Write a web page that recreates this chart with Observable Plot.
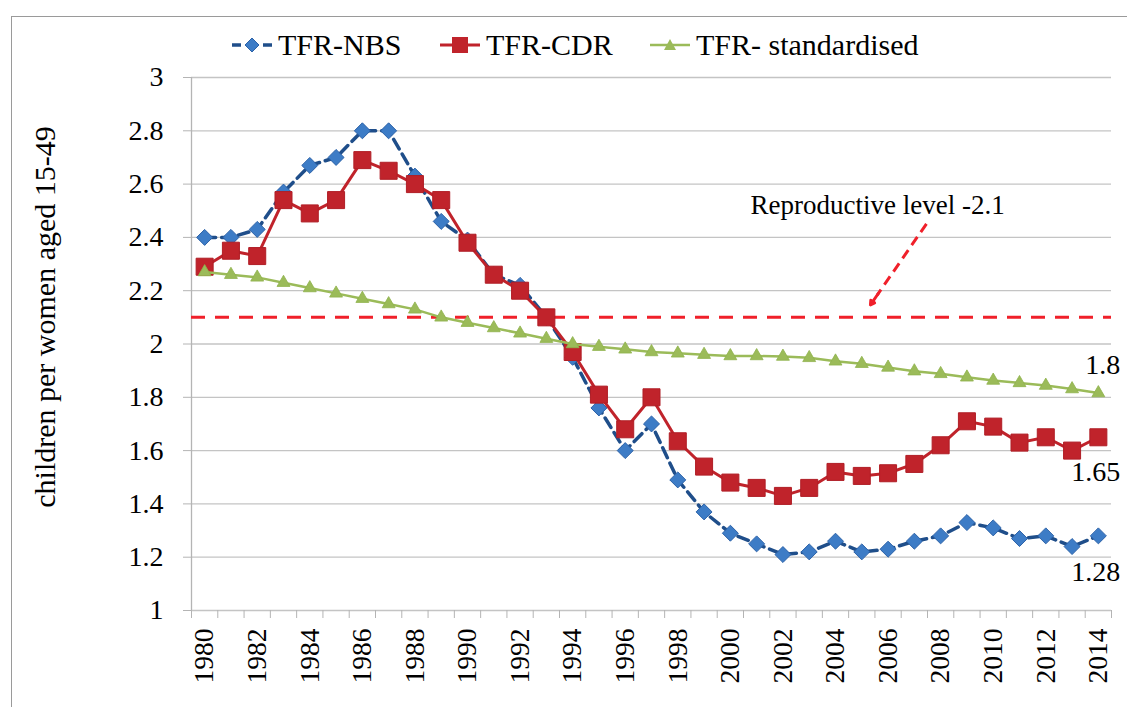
<!DOCTYPE html>
<html>
<head>
<meta charset="utf-8">
<script src="https://cdn.jsdelivr.net/npm/d3@7"></script>
<script src="https://cdn.jsdelivr.net/npm/@observablehq/plot@0.6"></script>
<style>
  html, body { margin: 0; padding: 0; background: #fff; }
  body { font-family: "Liberation Serif", "Times New Roman", serif; width: 1127px; height: 707px; position: relative; overflow: hidden; }
  #frame { position: absolute; left: 11px; top: 16px; right: -4px; bottom: -4px; border-left: 1.5px solid #9a9a9a; border-top: 1.5px solid #9a9a9a; pointer-events: none; }
  #legend { position: relative; height: 62px; font-size: 30px; color: #000; font-family: "Liberation Serif", "Times New Roman", serif; }
  .item { position: absolute; top: 28px; height: 34px; display: flex; align-items: center; white-space: nowrap; }
  .item span { font-family: "Liberation Serif", "Times New Roman", serif; }
  .item svg { margin-right: 6px; }
  #chart { position: relative; }
</style>
</head>
<body>
<div id="legend"></div>
<div id="chart"></div>
<div id="frame"></div>
<script>
// ---- data ----
const years = [1980,1981,1982,1983,1984,1985,1986,1987,1988,1989,
               1990,1991,1992,1993,1994,1995,1996,1997,1998,1999,
               2000,2001,2002,2003,2004,2005,2006,2007,2008,2009,
               2010,2011,2012,2013,2014];
const tfrNBS = [2.40,2.40,2.43,2.57,2.67,2.70,2.80,2.80,2.63,2.46,
                2.39,2.26,2.22,2.10,1.95,1.76,1.60,1.70,1.49,1.37,
                1.29,1.25,1.21,1.22,1.26,1.22,1.23,1.26,1.28,1.33,
                1.31,1.27,1.28,1.24,1.28];
const tfrCDR = [2.29,2.35,2.33,2.54,2.49,2.54,2.69,2.65,2.60,2.54,
                2.38,2.26,2.20,2.10,1.97,1.81,1.68,1.80,1.635,1.54,
                1.48,1.46,1.43,1.46,1.52,1.505,1.515,1.55,1.62,1.71,
                1.69,1.63,1.65,1.60,1.65];
const tfrStd = [2.27,2.26,2.25,2.23,2.21,2.19,2.17,2.15,2.13,2.10,
                2.08,2.06,2.04,2.02,2.00,1.99,1.98,1.97,1.965,1.96,
                1.955,1.955,1.953,1.948,1.935,1.926,1.912,1.898,1.888,1.875,
                1.863,1.854,1.844,1.831,1.816];
const seriesNames = ["TFR-NBS", "TFR-CDR", "TFR- standardised"];
const yTicks = [1, 1.2, 1.4, 1.6, 1.8, 2, 2.2, 2.4, 2.6, 2.8, 3];
const yTickLabels = ["1","1.2","1.4","1.6","1.8","2","2.2","2.4","2.6","2.8","3"];
const xTickLabels = [1980,1982,1984,1986,1988,1990,1992,1994,1996,1998,2000,2002,2004,2006,2008,2010,2012,2014];
const yLabel = "children per women aged 15-49";
const reproductiveLevel = [2.1];
const refText = ["Reproductive level -2.1"];
const refTextPos = [{x: 2005.6, y: 2.52}];
const refArrow = [{x1: 2007.46, y1: 2.451, x2: 2005.33, y2: 2.147}];
const endLabels = ["1.8", "1.65", "1.28"];
const endLabelY = [1.922, 1.521, 1.146];

// ---- colours ----
const cNBSline = "#1f4e8a", cNBSfill = "#3d7cc6", cCDR = "#c0232b", cStd = "#9bbb59", cRef = "#f0202a";
const serif = '"Liberation Serif", "Times New Roman", serif';

// ---- legend (HTML) ----
const legend = document.getElementById("legend");
const swatches = [
  `<svg width="40" height="20"><line x1="0" y1="10" x2="9" y2="10" stroke="${cNBSline}" stroke-width="3.5"/><line x1="31" y1="10" x2="40" y2="10" stroke="${cNBSline}" stroke-width="3.5"/><path d="M20,3 L27,10 L20,17 L13,10 Z" fill="${cNBSfill}" stroke="#2c62a8" stroke-width="1"/></svg>`,
  `<svg width="40" height="20"><line x1="0" y1="10" x2="40" y2="10" stroke="${cCDR}" stroke-width="3"/><rect x="12" y="2" width="16" height="16" fill="${cCDR}"/></svg>`,
  `<svg width="40" height="20"><line x1="0" y1="10" x2="40" y2="10" stroke="${cStd}" stroke-width="2.5"/><path d="M20,4 L26,15 L14,15 Z" fill="${cStd}"/></svg>`
];
const legendLeft = [232, 440, 650];
seriesNames.forEach((n, i) => {
  const d = document.createElement("div");
  d.className = "item";
  d.style.left = legendLeft[i] + "px";
  d.innerHTML = swatches[i] + `<span>${n}</span>`;
  legend.appendChild(d);
});

// ---- chart ----
const xBounds = d3.range(years[0] - 0.5, years[years.length - 1] + 1, 1);
const shaftEnd = refArrow.map(a => ({x1: a.x1, y1: a.y1, x2: a.x2 + (a.x1 - a.x2) * 0.12, y2: a.y2 + (a.y1 - a.y2) * 0.12}));
const headSeg = refArrow.map(a => ({x1: a.x2 + (a.x1 - a.x2) * 0.14, y1: a.y2 + (a.y1 - a.y2) * 0.14, x2: a.x2, y2: a.y2}));

const chart = Plot.plot({
  width: 1127,
  height: 645,
  marginLeft: 191,
  marginRight: 16,
  marginTop: 15,
  marginBottom: 97,
  style: {fontFamily: serif, fontSize: "27px", color: "#000", background: "transparent", overflow: "visible"},
  x: {domain: [years[0] - 0.5, years[years.length - 1] + 0.5]},
  y: {domain: [yTicks[0], yTicks[yTicks.length - 1]]},
  marks: [
    Plot.gridY(yTicks, {stroke: "#c4c4c4", strokeOpacity: 1, strokeWidth: 1.3}),
    Plot.ruleX([xBounds[0]], {stroke: "#b4b4b4", strokeWidth: 1.3}),
    Plot.axisY(yTicks, {tickSize: 8, tickPadding: 20, stroke: "#b4b4b4", fill: "#000", fontSize: 28, fontFamily: serif,
      tickFormat: d => yTickLabels[yTicks.indexOf(d)], label: null}),
    Plot.axisX(xBounds, {tickSize: 8, stroke: "#b4b4b4", tickFormat: () => "", label: null}),
    Plot.axisX(xTickLabels, {tickSize: 0, tickPadding: 18, tickRotate: -90, fill: "#000", fontSize: 27.5, fontFamily: serif,
      tickFormat: d => String(d), label: null}),
    Plot.text([yLabel], {frameAnchor: "left", textAnchor: "middle", rotate: -90, dx: -146, dy: -27, fontSize: 30, fontFamily: serif, fill: "#000"}),
    // reproductive level
    Plot.ruleY(reproductiveLevel, {stroke: cRef, strokeWidth: 3, strokeDasharray: "14,10"}),
    Plot.link(shaftEnd, {x1: "x1", y1: "y1", x2: "x2", y2: "y2", stroke: cRef, strokeWidth: 3, strokeDasharray: "10,6"}),
    Plot.arrow(headSeg, {x1: "x1", y1: "y1", x2: "x2", y2: "y2", stroke: cRef, strokeWidth: 3, headLength: 16, bend: 0}),
    Plot.text(refText, {x: refTextPos.map(d => d.x), y: refTextPos.map(d => d.y), fontSize: 27, fontFamily: serif, fill: "#000"}),
    // TFR-NBS
    Plot.line(years, {x: years, y: tfrNBS, stroke: cNBSline, strokeWidth: 3.5, strokeDasharray: "11,6"}),
    Plot.dot(years, {x: years, y: tfrNBS, symbol: "diamond2", r: 7.2, fill: cNBSfill, stroke: "#2c62a8", strokeWidth: 1}),
    // TFR-CDR
    Plot.line(years, {x: years, y: tfrCDR, stroke: cCDR, strokeWidth: 3}),
    Plot.dot(years, {x: years, y: tfrCDR, symbol: "square", r: 9.6, fill: cCDR, stroke: "#b01e26", strokeWidth: 1}),
    // TFR standardised
    Plot.line(years, {x: years, y: tfrStd, stroke: cStd, strokeWidth: 2.5}),
    Plot.dot(years, {x: years, y: tfrStd, symbol: "triangle", r: 4.8, fill: cStd, stroke: "#8fb24c", strokeWidth: 0.8}),
    // end labels
    Plot.text(endLabels, {x: endLabels.map(() => years[years.length - 1]), y: endLabelY, dx: 22, textAnchor: "end", fontSize: 28, fontFamily: serif, fill: "#000"})
  ]
});
document.getElementById("chart").appendChild(chart);
</script>
</body>
</html>
